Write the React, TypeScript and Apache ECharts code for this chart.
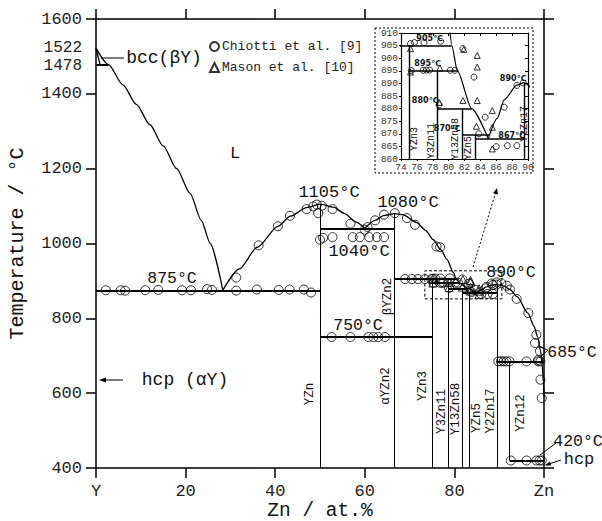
import React, { useEffect, useRef } from 'react';
import * as echarts from 'echarts';

const MONO = '"Liberation Mono", "DejaVu Sans Mono", monospace';

// ---- data (x = Zn at.%, y = temperature °C) ----
const xTicks = [0, 20, 40, 60, 80, 100];
const extraYTicks = [1522, 1478];

const liquidusLeft = [[0, 1522], [2.8, 1478], [6, 1424], [9, 1372], [12, 1318], [15, 1261], [18, 1200], [21, 1134], [23.5, 1062], [25.5, 1000], [28.3, 875]];
const liquidusA = [[28.3, 875], [32, 932], [36, 990], [40.6, 1046], [43.4, 1073], [47, 1096], [50, 1105], [53, 1097], [55.5, 1080], [58, 1058], [60, 1040]];
const liquidusB = [[60, 1040], [62.3, 1062], [64.3, 1075], [66.7, 1080], [68.5, 1077], [71.6, 1056], [73.5, 1036], [75.3, 1010], [77, 983], [78.3, 958], [79.8, 922], [80.4, 905], [81.1, 895], [82.9, 880], [85, 868]];
const liquidusC = [[85, 868], [86.1, 876], [87, 883.5], [88.6, 889.3], [89.5, 890.3], [91, 887], [92.4, 877], [94, 858], [96.4, 814], [97.8, 778], [98.6, 750], [99.2, 715], [99.6, 675], [99.85, 630], [100, 590]];
const bccSolvus = [[0, 1522], [0.9, 1478]];

// [x1, x2, T]
const invariants = [[0, 2.8, 1478], [0, 50, 875], [50, 66.7, 1040], [50, 75, 750], [66.7, 80.4, 905], [75, 81.1, 895], [78.57, 82.9, 880], [81.69, 85.1, 869.5], [83.33, 89.47, 868], [89.47, 100, 685], [92.31, 100, 420]];
// [x, T1, T2]
const compounds = [[50, 400, 1105], [66.67, 400, 1080], [75, 400, 905], [78.57, 400, 895], [81.69, 400, 880], [83.33, 400, 869.5], [89.47, 400, 890.3], [92.31, 420, 685]];

const chiottiMain = [
  [2.2, 875], [5.5, 875], [6.5, 874], [11, 875], [13.9, 876], [19.2, 875], [21.2, 875], [24.8, 878], [25.9, 876], [31.3, 874], [35.9, 877], [40.8, 876], [43.2, 877], [46.4, 877], [48, 869],
  [31.3, 909], [36.3, 995], [40.6, 1046], [43.3, 1074], [47, 1092], [48.5, 1099], [49.3, 1104], [50.4, 1101], [52.8, 1092], [49.6, 1081], [56.8, 1053], [60, 1037], [60.6, 1044], [62.3, 1062], [64.3, 1077], [66.7, 1081], [69.4, 1068],
  [50, 1010], [50.7, 1015], [52.8, 1017], [57.3, 1017], [58.9, 1017], [61, 1017], [62.7, 1017], [64.3, 1017],
  [71.2, 1050], [76, 992], [76.8, 990],
  [69, 905], [70.5, 905], [71.9, 905], [73.4, 905], [74.9, 905],
  [52.6, 750], [56.8, 750], [60.8, 750], [61.9, 750], [63, 750], [64.5, 750],
  [87.2, 884], [88.3, 893], [89.4, 896], [90.5, 894], [91.7, 887], [92.4, 877], [93.9, 852], [96.5, 814], [98.3, 756], [98, 734], [99.1, 712], [98.7, 689], [99.2, 636], [99.5, 587],
  [89.8, 685], [90.4, 685], [91, 685], [91.6, 685], [92.3, 685], [96.1, 685], [98.7, 685], [99.2, 685],
  [92.6, 420], [96.1, 420], [98.3, 420], [99, 420], [99.5, 420],
];
const chiottiInset = [
  [75.2, 905.8], [75.7, 906.2], [76.9, 906.2], [79, 906.7], [75.3, 895.1], [76.8, 895.2], [77.2, 895.3], [77.6, 895.3], [80.2, 895.2], [80.8, 895.2],
  [81.8, 903.8], [83.2, 892.5], [84.6, 876.6], [83.8, 870], [87, 880.6], [88.6, 889.2], [89.4, 890.2], [86, 864.9], [87.4, 865.3], [88.6, 865.3], [78.8, 881.5],
];
const masonInset = [
  [75.2, 903.8], [75.2, 894.5], [78.9, 896.1], [78.8, 882.5], [81.8, 883.2], [83.6, 883.2], [83.6, 901.1], [83.6, 896.5], [81.9, 903.5], [85.5, 879.2], [83.5, 873], [85.5, 872.6], [85.5, 864],
];
const zoomBox = [[73.4, 852], [90.6, 852], [90.6, 927], [73.4, 927], [73.4, 852]];

const chiottiAll = chiottiMain.concat(chiottiInset);

const segH = (a: number[]) => ({ coords: [[a[0], a[2]], [a[1], a[2]]] });
const segV = (a: number[]) => ({ coords: [[a[0], a[1]], [a[0], a[2]]] });

function buildSeries(xi: number, yi: number, inset: boolean) {
  const base = { xAxisIndex: xi, yAxisIndex: yi, silent: true, clip: true, animation: false };
  const lw = inset ? 1.2 : 1.3;
  const sym = inset ? 6 : 9;
  const curve = (data: number[][]) => ({
    ...base, type: 'line', data, smooth: 0.25, smoothMonotone: 'x', symbol: 'none',
    lineStyle: { color: '#000', width: lw },
  });
  const s: any[] = [
    curve(liquidusLeft), curve(liquidusA), curve(liquidusB), curve(liquidusC), curve(bccSolvus),
    { ...base, type: 'lines', coordinateSystem: 'cartesian2d', data: invariants.map(segH), lineStyle: { color: '#000', width: inset ? 1.6 : 2, opacity: 1 } },
    { ...base, type: 'lines', coordinateSystem: 'cartesian2d', data: compounds.map(segV), lineStyle: { color: '#000', width: inset ? 1.4 : 1, opacity: 1 } },
    { ...base, name: 'Chiotti et al. [9]', type: 'scatter', data: inset ? chiottiInset : chiottiAll, symbol: 'circle', symbolSize: sym, itemStyle: { color: 'rgba(255,255,255,0)', borderColor: '#000', borderWidth: 1 } },
    { ...base, name: 'Mason et al. [10]', type: 'scatter', data: masonInset, symbol: 'triangle', symbolSize: inset ? 6 : 8, itemStyle: { color: 'rgba(255,255,255,0)', borderColor: '#000', borderWidth: 1 } },
  ];
  if (!inset) {
    s.push({ ...base, type: 'lines', coordinateSystem: 'cartesian2d', polyline: true, data: [{ coords: zoomBox }], lineStyle: { color: '#000', width: 1, type: [3, 2], opacity: 1 } });
  }
  return s;
}

const axisLine = { show: true, onZero: false, lineStyle: { color: '#000', width: 1.5 } };

const option: any = {
  animation: false,
  backgroundColor: '#fff',
  textStyle: { fontFamily: MONO },
  grid: [
    { left: 96, top: 19, width: 448, height: 449, show: false, containLabel: false, outerBoundsMode: 'none' },
    { left: 401, top: 33, width: 127, height: 126, show: true, backgroundColor: '#fff', borderWidth: 0, containLabel: false, outerBoundsMode: 'none' },
  ],
  legend: {
    left: 204, top: 35, orient: 'vertical', itemGap: 8, itemWidth: 9, itemHeight: 9,
    data: ['Chiotti et al. [9]', 'Mason et al. [10]'],
    textStyle: { fontFamily: MONO, fontSize: 13, color: '#222', padding: [0, 0, 0, -2] },
    selectedMode: false,
  },
  xAxis: [
    {
      gridIndex: 0, type: 'value', min: 0, max: 100, interval: 20, position: 'bottom',
      axisLine, axisTick: { length: 10, lineStyle: { color: '#000', width: 1.5 } }, splitLine: { show: false },
      axisLabel: { fontFamily: MONO, fontSize: 17, lineHeight: 17, color: '#222', margin: 15, formatter: (v: number) => (v === xTicks[0] ? 'Y' : v === xTicks[xTicks.length - 1] ? 'Zn' : String(v)) },
      name: 'Zn / at.%', nameLocation: 'middle', nameGap: 33, nameMoveOverlap: false,
      nameTextStyle: { fontFamily: MONO, fontSize: 19.5, lineHeight: 19, color: '#111' },
    },
    {
      gridIndex: 0, type: 'value', min: 0, max: 100, interval: 20, position: 'top',
      axisLine, axisTick: { length: 10, lineStyle: { color: '#000', width: 1.5 } }, splitLine: { show: false }, axisLabel: { show: false },
    },
    {
      gridIndex: 1, type: 'value', min: 74, max: 90, interval: 2, position: 'bottom',
      axisLine: { show: true, onZero: false, lineStyle: { color: '#000', width: 1.2 } },
      axisTick: { length: 2, lineStyle: { color: '#000' } }, splitLine: { show: false },
      axisLabel: { fontFamily: MONO, fontSize: 9.5, color: '#333', margin: 3 },
    },
    {
      gridIndex: 1, type: 'value', min: 74, max: 90, interval: 2, position: 'top',
      axisLine: { show: true, onZero: false, lineStyle: { color: '#000', width: 1.2 } },
      axisTick: { inside: true, length: 3, lineStyle: { color: '#000' } }, splitLine: { show: false }, axisLabel: { show: false },
    },
  ],
  yAxis: [
    {
      gridIndex: 0, type: 'value', min: 400, max: 1600, interval: 200, position: 'left',
      axisLine, axisTick: { length: 10, lineStyle: { color: '#000', width: 1.5 } }, splitLine: { show: false },
      axisLabel: { fontFamily: MONO, fontSize: 17, color: '#222', margin: 14, formatter: (v: number) => String(v) },
      name: 'Temperature / °C', nameLocation: 'middle', nameGap: 69, nameRotate: 90, nameMoveOverlap: false,
      nameTextStyle: { fontFamily: MONO, fontSize: 20, color: '#111' },
    },
    {
      gridIndex: 0, type: 'value', min: 400, max: 1600, interval: 200, position: 'right',
      axisLine, axisTick: { length: 10, lineStyle: { color: '#000', width: 1.5 } }, splitLine: { show: false }, axisLabel: { show: false },
    },
    {
      gridIndex: 1, type: 'value', min: 860, max: 910, interval: 5, position: 'left',
      axisLine: { show: true, onZero: false, lineStyle: { color: '#000', width: 1.2 } },
      axisTick: { length: 2, lineStyle: { color: '#000' } }, splitLine: { show: false },
      axisLabel: { fontFamily: MONO, fontSize: 9.5, color: '#333', margin: 3 },
    },
    {
      gridIndex: 1, type: 'value', min: 860, max: 910, interval: 5, position: 'right',
      axisLine: { show: true, onZero: false, lineStyle: { color: '#000', width: 1.2 } },
      axisTick: { inside: true, length: 3, lineStyle: { color: '#000' } }, splitLine: { show: false }, axisLabel: { show: false },
    },
  ],
  series: [...buildSeries(0, 0, false), ...buildSeries(2, 2, true)],
};

function txt(text: string, x: number, y: number, size: number, opts: any = {}) {
  return {
    type: 'text', x, y, rotation: opts.rotation || 0, z: 10, silent: true,
    style: {
      text, fontSize: size, fontFamily: opts.family || MONO, fontWeight: opts.weight || 'normal',
      fill: opts.fill || '#111', align: opts.align || 'center', verticalAlign: 'middle',
      lineHeight: opts.lineHeight,
    },
  };
}
function ln(pts: number[][], opts: any = {}) {
  return {
    type: 'polyline', z: 10, silent: true, shape: { points: pts },
    style: { stroke: '#000', lineWidth: opts.w || 1, lineDash: opts.dash || null, fill: 'none' },
  };
}
function head(pts: number[][]) {
  return { type: 'polygon', z: 10, silent: true, shape: { points: pts }, style: { fill: '#000' } };
}

const R = Math.PI / 2;
const SANS = '"DejaVu Sans", "Noto Sans CJK SC", sans-serif';

const graphics: any[] = [
  // extra tick labels
  txt(String(extraYTicks[0]), 82, 48, 16, { align: 'right', fill: '#222', lineHeight: 15 }),
  txt(String(extraYTicks[1]), 82, 65.5, 16, { align: 'right', fill: '#222', lineHeight: 15 }),
  // main annotations
  txt('L', 235, 153, 17),
  txt('bcc(βY)', 164, 58, 18),
  ln([[124, 58], [101, 58]]),
  txt('hcp (αY)', 185, 380, 18),
  ln([[123, 380], [104, 380]]),
  head([[99, 380], [106, 377.5], [106, 382.5]]),
  txt('1105°C', 329, 192, 17),
  txt('1080°C', 408, 202, 17),
  txt('1040°C', 359, 251, 17),
  txt('875°C', 172, 278, 16.5),
  txt('750°C', 358, 325, 16.5),
  txt('890°C', 511, 272, 16.5),
  txt('685°C', 572, 352, 16.5),
  ln([[548, 350], [538, 346]]),
  ln([[548, 350], [539, 358]]),
  txt('420°C', 578, 441, 16.5),
  ln([[556, 443], [540, 455]]),
  txt('hcp', 579, 459, 17),
  ln([[561, 460], [549, 464]]),
  head([[544.5, 465.5], [550, 461.6], [551.2, 465.4]]),
  // compound labels
  txt('YZn', 310, 394, 12.5, { rotation: R }),
  txt('αYZn2', 386, 386, 12.5, { rotation: R }),
  txt('βYZn2', 388, 296.5, 12.5, { rotation: R }),
  txt('YZn3', 423, 386, 12.5, { rotation: R }),
  txt('Y3Zn11', 441.5, 411.5, 12.5, { rotation: R }),
  txt('Y13Zn58', 455.5, 409, 12.5, { rotation: R }),
  txt('YZn5', 477, 418, 12.5, { rotation: R }),
  txt('Y2Zn17', 490.5, 411, 12.5, { rotation: R }),
  txt('YZn12', 520.5, 413, 12.5, { rotation: R }),
  // zoom arrow
  ln([[473, 267], [495.5, 193]], { dash: [2, 2] }),
  head([[497, 188], [497.9, 194.6], [493.1, 193.2]]),
  // inset dashed frame
  { type: 'rect', z: 1, silent: true, shape: { x: 375, y: 28, width: 158, height: 145 }, style: { fill: 'none', stroke: '#000', lineWidth: 1, lineDash: [2, 2] } },
  // inset labels
  txt('905℃', 429.5, 38.5, 8, { family: SANS, weight: 'bold' }),
  txt('895℃', 427.5, 63.5, 8, { family: SANS, weight: 'bold' }),
  txt('880℃', 425, 100, 8, { family: SANS, weight: 'bold' }),
  txt('870℃', 447, 128, 8, { family: SANS, weight: 'bold' }),
  txt('867℃', 511.5, 135, 8, { family: SANS, weight: 'bold' }),
  txt('890℃', 513, 78.5, 8, { family: SANS, weight: 'bold' }),
  txt('YZn3', 414, 139, 10, { rotation: R }),
  txt('Y3Zn11', 431.5, 141, 10, { rotation: R }),
  txt('Y13Zn58', 455, 139, 10, { rotation: R }),
  txt('YZn5', 468.5, 148, 10, { rotation: R }),
  txt('Y2Zn17', 524, 124, 10, { rotation: R }),
];

option.graphic = graphics;

export default function App() {
  const ref = useRef<HTMLDivElement>(null);
  useEffect(() => {
    const chart = echarts.init(ref.current as HTMLDivElement, null, { renderer: 'svg' });
    chart.setOption(option);
    return () => chart.dispose();
  }, []);
  return <div ref={ref} style={{ position: 'fixed', left: 0, top: 0, width: 602, height: 521, background: '#fff' }} />;
}
